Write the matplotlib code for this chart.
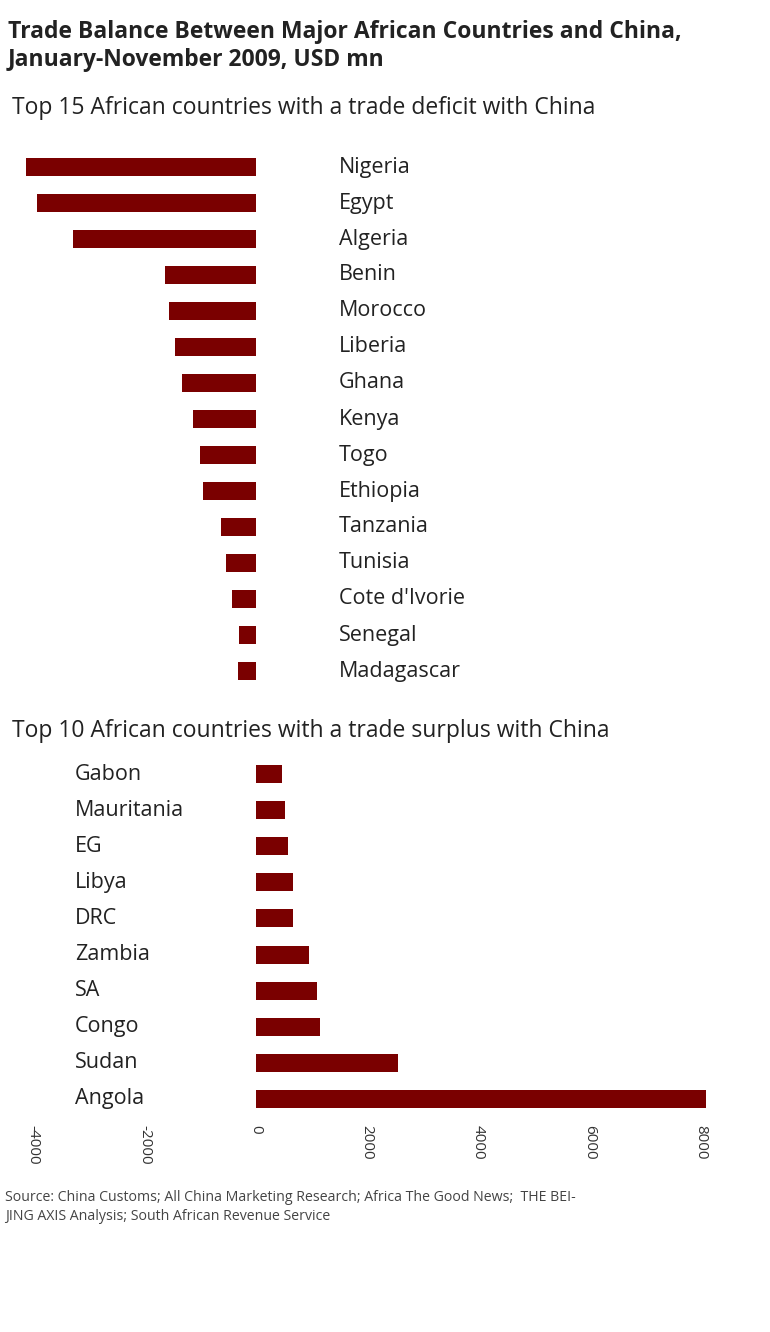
import matplotlib
matplotlib.use("Agg")
import matplotlib.pyplot as plt

plt.rcParams['font.family'] = ['Open Sans', 'DejaVu Sans']

deficit_countries = ["Nigeria", "Egypt", "Algeria", "Benin", "Morocco", "Liberia", "Ghana",
                     "Kenya", "Togo", "Ethiopia", "Tanzania", "Tunisia", "Cote d'Ivorie",
                     "Senegal", "Madagascar"]
deficit_values = [-4140, -3940, -3290, -1640, -1560, -1460, -1330, -1120, -1010, -950,
                  -630, -540, -430, -310, -320]

surplus_countries = ["Gabon", "Mauritania", "EG", "Libya", "DRC", "Zambia", "SA",
                     "Congo", "Sudan", "Angola"]
surplus_values = [470, 520, 580, 670, 670, 950, 1100, 1150, 2550, 8090]

ticks = [-4000, -2000, 0, 2000, 4000, 6000, 8000]
color = "#7a0000"
W, H = 770, 1332
xlim = (-4600, 9250)

fig = plt.figure(figsize=(W / 100, H / 100), dpi=100)

def add_ax(top_px, bottom_px):
    ax = fig.add_axes([0, 1 - bottom_px / H, 1, (bottom_px - top_px) / H])
    ax.set_xlim(*xlim)
    for s in ax.spines.values():
        s.set_visible(False)
    ax.set_yticks([])
    return ax

ax1 = add_ax(149, 689)
y1 = list(range(len(deficit_countries)))
ax1.barh(y1, deficit_values, height=0.5, color=color)
ax1.set_ylim(len(y1) - 0.5, -0.5)
ax1.set_xticks([])
for y, name in zip(y1, deficit_countries):
    ax1.text(1500, y, name, va="center", ha="left", fontsize=15.5, color="#222222")

ax2 = add_ax(756, 1117)
y2 = list(range(len(surplus_countries)))
ax2.barh(y2, surplus_values, height=0.5, color=color)
ax2.set_ylim(len(y2) - 0.5, -0.5)
for y, name in zip(y2, surplus_countries):
    ax2.text(-3250, y, name, va="center", ha="left", fontsize=15.5, color="#222222")
ax2.set_xticks(ticks)
ax2.set_xticklabels([str(t) for t in ticks], rotation=-90, fontsize=11, color="#333333")
ax2.tick_params(axis="x", length=0, pad=6)

fig.text(8 / W, 1 - 46 / H, "Trade Balance Between Major African Countries and China,\nJanuary-November 2009, USD mn",
         fontsize=16.5, fontweight="bold", va="center", ha="left", color="#222222", linespacing=1.25)
fig.text(12 / W, 1 - 108 / H, "Top 15 African countries with a trade deficit with China",
         fontsize=16.5, va="center", ha="left", color="#222222")
fig.text(12 / W, 1 - 731 / H, "Top 10 African countries with a trade surplus with China",
         fontsize=16.5, va="center", ha="left", color="#222222")
fig.text(5 / W, 1 - 1207 / H, "Source: China Customs; All China Marketing Research; Africa The Good News;  THE BEI-\nJING AXIS Analysis; South African Revenue Service",
         fontsize=10.2, va="center", ha="left", color="#444444", linespacing=1.4)

fig.savefig("out.png", dpi=100)
